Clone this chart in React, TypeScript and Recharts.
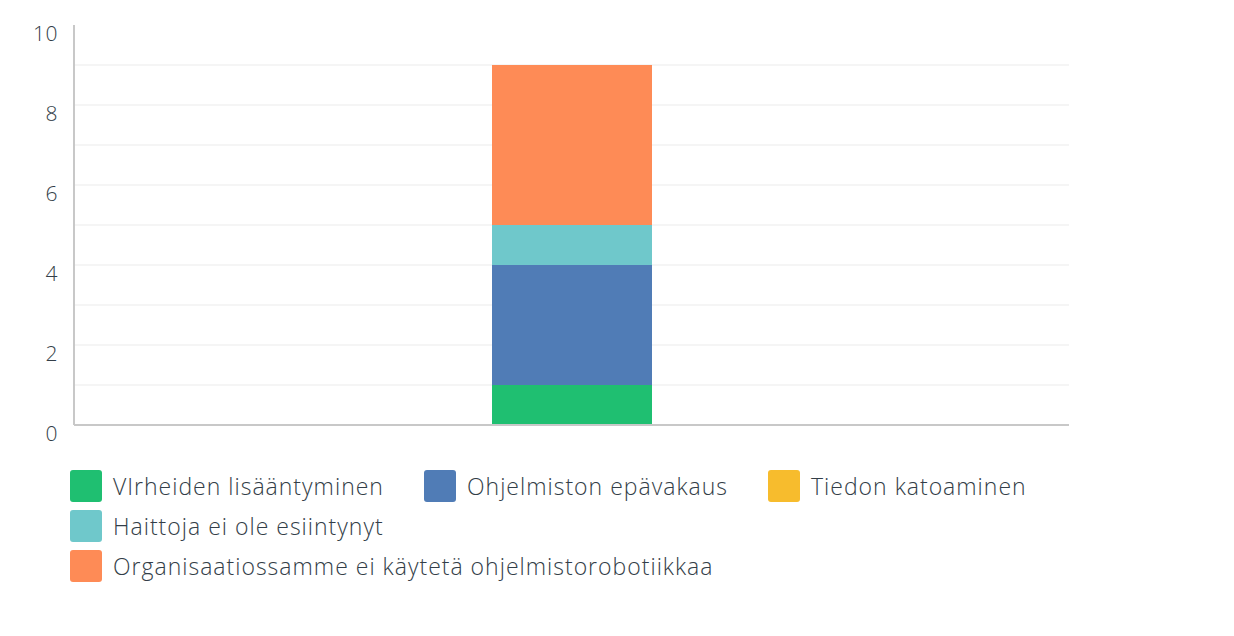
import React from 'react';
import { BarChart, Bar, XAxis, YAxis, CartesianGrid } from 'recharts';

const categories = ['Q'];
const seriesNames = [
  'VIrheiden lisääntyminen',
  'Ohjelmiston epävakaus',
  'Tiedon katoaminen',
  'Haittoja ei ole esiintynyt',
  'Organisaatiossamme ei käytetä ohjelmistorobotiikkaa',
];
const seriesColors = ['#1fbf71', '#507cb6', '#f7bc2d', '#6fc8cb', '#fe8b56'];
const seriesValues = [[1], [3], [0], [1], [4]];
const yTicks = [0, 2, 4, 6, 8, 10];
const gridValues = [1, 2, 3, 4, 5, 6, 7, 8, 9];

// legend rows as drawn in the picture
const legendRows = [[0, 1, 2], [3], [4]];
const legendCols = [70, 424, 768];

const FONT = '"Open Sans", sans-serif';
const TEXT = '#333e48';

const data = categories.map((c, i) => {
  const row: Record<string, any> = { name: c };
  seriesNames.forEach((s, k) => {
    row['s' + k] = seriesValues[k][i];
  });
  return row;
});

const YTick = (props: any) => {
  const { y, payload } = props;
  return (
    <text x={58} y={y + 16} textAnchor="end" fill={TEXT} fontSize={21} fontWeight={300} letterSpacing={0.5} fontFamily={FONT}>
      {payload.value}
    </text>
  );
};

export default function App() {
  return (
    <div style={{ position: 'absolute', left: 0, top: 0, width: 1234, height: 636, background: '#fff' }}>
      <BarChart
        width={1234}
        height={636}
        data={data}
        margin={{ top: 25, right: 165, bottom: 210, left: 0 }}
      >
        <CartesianGrid vertical={false} stroke="#ebebeb" horizontalValues={gridValues} />
        <XAxis dataKey="name" tick={false} tickLine={false} height={1} axisLine={{ stroke: '#c8c8c8', strokeWidth: 2 }} />
        <YAxis
          width={74}
          domain={[0, 10]}
          ticks={yTicks}
          tickLine={false}
          axisLine={{ stroke: '#c8c8c8', strokeWidth: 2 }}
          tick={<YTick />}
        />
        {seriesNames.map((s, k) => (
          <Bar key={s} dataKey={'s' + k} name={s} stackId="a" fill={seriesColors[k]} barSize={160} isAnimationActive={false} />
        ))}
      </BarChart>
      {legendRows.map((row, r) =>
        row.map((k, c) => (
          <div
            key={k}
            style={{
              position: 'absolute',
              left: legendCols[c],
              top: 470 + r * 40,
              height: 32,
              display: 'flex',
              alignItems: 'center',
              fontFamily: FONT,
              fontSize: 23,
              fontWeight: 300,
              letterSpacing: 1,
              color: TEXT,
              whiteSpace: 'nowrap',
            }}
          >
            <span style={{ width: 32, height: 32, borderRadius: 3, background: seriesColors[k], marginRight: 11, display: 'inline-block' }} />
            {seriesNames[k]}
          </div>
        ))
      )}
    </div>
  );
}
